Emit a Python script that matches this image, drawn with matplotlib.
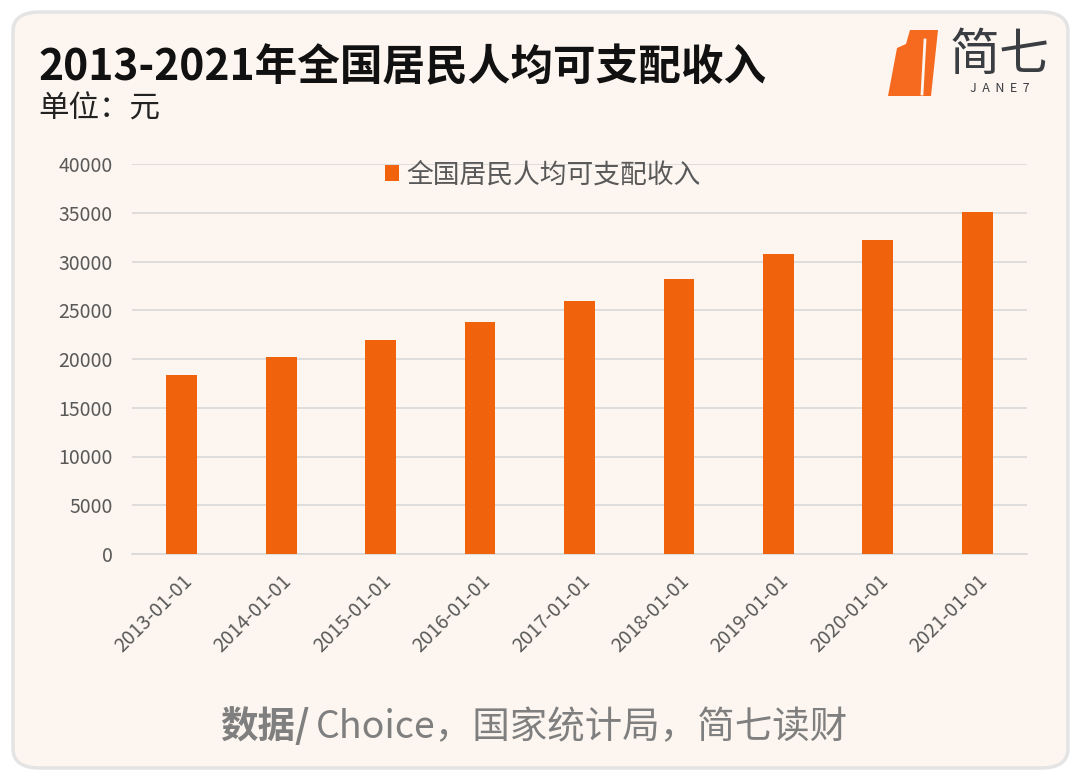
import matplotlib.pyplot as plt
import matplotlib.transforms as mtransforms
import numpy as np
from matplotlib.patches import FancyBboxPatch, Polygon

plt.rcParams['font.family'] = ['Noto Sans CJK SC', 'DejaVu Sans']

# data
dates = ['2013-01-01', '2014-01-01', '2015-01-01', '2016-01-01', '2017-01-01',
         '2018-01-01', '2019-01-01', '2020-01-01', '2021-01-01']
income = [18311, 20167, 21966, 23821, 25974, 28228, 30733, 32189, 35128]
yticks = [0, 5000, 10000, 15000, 20000, 25000, 30000, 35000, 40000]

title = '2013-2021年全国居民人均可支配收入'
unit = '单位：元'
series_name = '全国居民人均可支配收入'

BG = '#fdf6f0'
ORANGE = '#f1620c'
GRAY = '#595959'

fig = plt.figure(figsize=(10.8, 7.8), dpi=100)
fig.patch.set_facecolor('white')

# card background
card = FancyBboxPatch((13/1080, 12/780), 1055/1080, 756/780,
                      boxstyle='round,pad=0,rounding_size=0.025',
                      transform=fig.transFigure, facecolor=BG,
                      edgecolor='#e4e4e4', linewidth=2.5, zorder=-5)
fig.patches.append(card)

ax = fig.add_axes([132/1080, 1 - 554/780, 895/1080, 390/780])
ax.set_zorder(2)
ax.set_facecolor('none')
x = np.arange(len(dates))
bars = ax.bar(x, income, width=0.31, color=ORANGE, label=series_name, zorder=3)

ax.set_xlim(-0.5, len(dates) - 0.5)
ax.set_ylim(0, 40000)
ax.set_yticks(yticks)
ax.set_yticklabels([str(v) for v in yticks], fontsize=14, color=GRAY,
                   fontweight='light')
ax.set_xticks(x)
ax.set_xticklabels(dates, fontsize=14, color=GRAY, rotation=45,
                   ha='right', rotation_mode='anchor', fontweight='light')
shift = mtransforms.ScaledTranslation(-7/100, 0, fig.dpi_scale_trans)
for lab in ax.get_xticklabels():
    lab.set_transform(lab.get_transform() + shift)
ax.tick_params(axis='both', length=0)
ax.tick_params(axis='x', pad=12)
ax.tick_params(axis='y', pad=14)
ax.grid(axis='y', color='#d9d9d9', linewidth=1.2, zorder=0)
ax.set_axisbelow(True)
for s in ['top', 'right', 'left']:
    ax.spines[s].set_visible(False)
ax.spines['bottom'].set_color('#d9d9d9')
ax.spines['bottom'].set_linewidth(1.2)

fig.legend(handles=[bars], labels=[series_name], loc='center',
           bbox_to_anchor=(543/1080, 1 - 175/780), frameon=False,
           fontsize=19.3, labelcolor=GRAY, handlelength=0.5, handleheight=0.5,
           handletextpad=0.3)

# titles
fig.text(38/1080, 1 - 80/780, title, fontsize=30.7, fontweight='bold',
         color='#111111', va='baseline')
fig.text(38/1080, 1 - 118/780, unit, fontsize=22, color='#222222',
         va='baseline')

# footer
t1 = fig.text(220/1080, 1 - 738/780, '数据/', fontsize=27, fontweight='bold',
              color='#7f7f7f', va='baseline')
fig.canvas.draw()
bb = t1.get_window_extent()
fig.text(bb.x1 / 1080 + 6/1080, 1 - 738/780, 'Choice，国家统计局，简七读财',
         fontsize=27, color='#7f7f7f', va='baseline')

# logo
logo = Polygon([(910/1080, 1 - 30/780), (938/1080, 1 - 30/780),
                (931/1080, 1 - 96/780), (888/1080, 1 - 96/780),
                (897/1080, 1 - 48/780), (906/1080, 1 - 44/780)],
               closed=True, transform=fig.transFigure, facecolor='#f56a1e',
               edgecolor='none')
fig.patches.append(logo)
fig.lines.append(plt.Line2D([925/1080, 922/1080], [1 - 40/780, 1 - 94/780],
                            transform=fig.transFigure, color=BG, lw=2))
fig.text(1000/1080, 1 - 56/780, '简七', fontsize=36, color='#3a3d42',
         ha='center', va='center', fontweight='light')
fig.text(1000/1080, 1 - 89/780, 'J  A  N  E  7', fontsize=9, color='#3a3d42',
         ha='center', va='center')

fig.savefig('out.png', dpi=100, facecolor=fig.get_facecolor())
